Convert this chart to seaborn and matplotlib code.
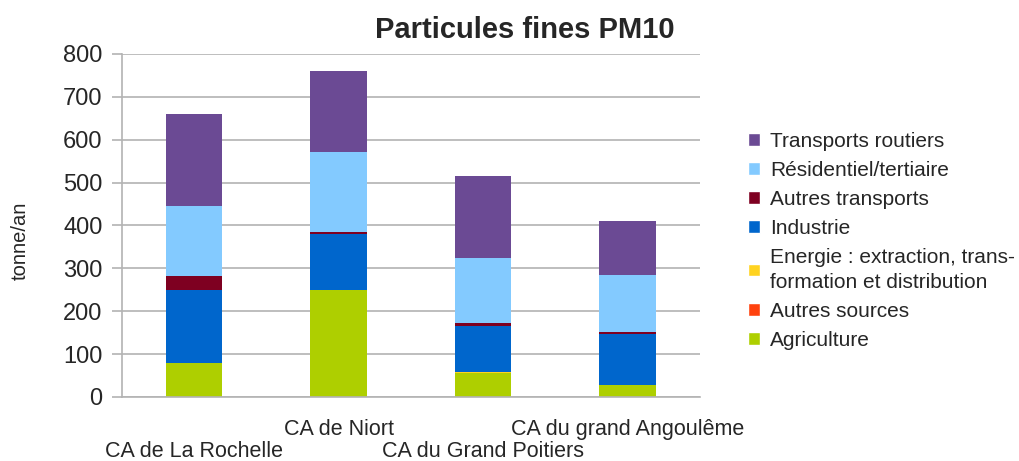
import numpy as np
import pandas as pd
import seaborn as sns
import matplotlib.pyplot as plt
from matplotlib.patches import Patch

sns.set_style("white")
plt.rcParams['font.family'] = ['Liberation Sans', 'DejaVu Sans']

regions = ["CA de La Rochelle", "CA de Niort", "CA du Grand Poitiers", "CA du grand Angoulême"]

# stacked from bottom to top
sectors = ["Agriculture", "Autres sources",
           "Energie : extraction, trans-\nformation et distribution",
           "Industrie", "Autres transports", "Résidentiel/tertiaire", "Transports routiers"]
agriculture = [78, 250, 56, 28]
autres_sources = [0, 0, 0, 0]
energie = [1, 0, 1, 0]
industrie = [171, 130, 109, 119]
autres_transports = [32, 5, 7, 5]
residentiel = [163, 186, 151, 132]
routiers = [215, 189, 191, 126]
colors = ["#AECF00", "#FF420E", "#FFD320", "#0066CC", "#7E0021", "#83CAFF", "#6B4A94"]

values = [agriculture, autres_sources, energie, industrie, autres_transports, residentiel, routiers]
cum = np.cumsum(np.array(values), axis=0)

fig = plt.figure(figsize=(10.2, 4.61), dpi=100)
ax = fig.add_axes([0.1196, 0.139, 0.5664, 0.744])

# draw cumulative totals from top sector down so lower layers cover upper ones
for i in range(len(sectors) - 1, -1, -1):
    df = pd.DataFrame({"region": regions, "value": cum[i]})
    sns.barplot(data=df, x="region", y="value", color=colors[i], width=0.39,
                saturation=1, ax=ax, linewidth=0)

ax.set_ylim(0, 800)
ax.set_xlim(-0.5, 3.5)
ax.set_yticks(range(0, 801, 100))
ax.yaxis.grid(True, color="#b3b3b3", linewidth=1.2)
ax.set_axisbelow(True)
for s in ["top", "right"]:
    ax.spines[s].set_visible(False)
for s in ["left", "bottom"]:
    ax.spines[s].set_color("#b3b3b3")
    ax.spines[s].set_linewidth(1.2)

# staggered category labels: odd ones on the upper row, even ones on a lower row
ax.set_xticks([1, 3], labels=[regions[1], regions[3]], fontsize=15.5)
ax.tick_params(axis="x", length=0, pad=16)
ax.set_xticks(np.arange(-0.5, 4, 1), minor=True)
ax.tick_params(axis="x", which="minor", length=8, color="#b3b3b3", width=1.2)
low = ax.secondary_xaxis("bottom")
low.set_xticks([0, 2], labels=[regions[0], regions[2]], fontsize=15.5)
low.tick_params(axis="x", length=0, pad=31.5)
low.spines["bottom"].set_visible(False)

ax.tick_params(axis="y", labelsize=17, length=7, color="#b3b3b3", width=1.2, left=True, pad=7)

ax.set_xlabel("")
ax.set_ylabel("tonne/an", fontsize=14.5)
ax.yaxis.set_label_coords(-0.16, 0.455)

fig.suptitle("Particules fines PM10", fontsize=21, fontweight="bold", x=0.515, y=0.965)

handles = [Patch(facecolor=colors[i], label=sectors[i]) for i in range(len(sectors) - 1, -1, -1)]
leg = fig.legend(handles=handles, loc="upper left", bbox_to_anchor=(0.715, 0.755), frameon=False,
                 fontsize=15, handlelength=0.55, handleheight=0.55, handletextpad=0.5,
                 labelspacing=0.48)
for t in leg.get_texts():
    t.set_linespacing(1.4)

fig.savefig("out.png", dpi=100)
